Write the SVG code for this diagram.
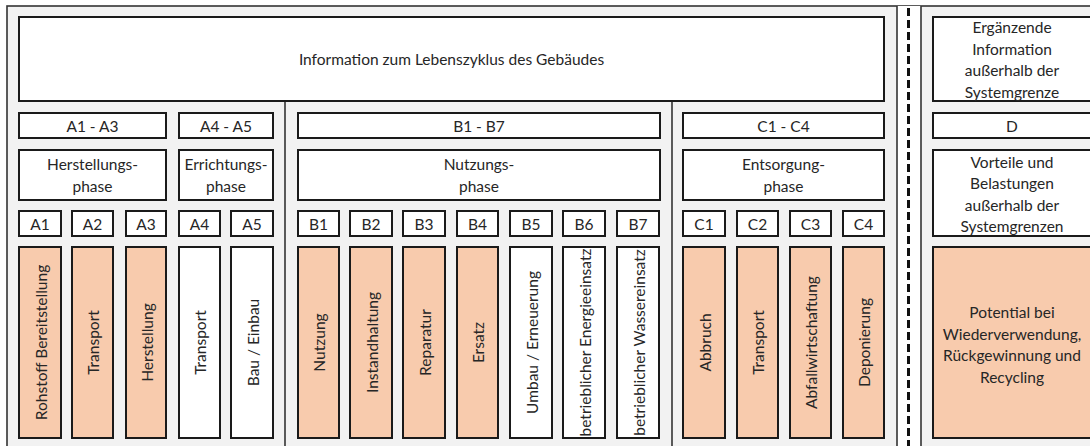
<svg xmlns="http://www.w3.org/2000/svg" width="1090" height="446" viewBox="0 0 1090 446">
<style>
.panel{fill:#f2f2f2;stroke:#333;stroke-width:1.6}
.div{stroke:#333;stroke-width:1.6;fill:none}
.b{fill:#fff;stroke:#1a1a1a;stroke-width:2}
.o{fill:#f8cbad;stroke:#1a1a1a;stroke-width:2}
text{font-family:Lato,"Liberation Sans",sans-serif;font-size:15.5px;fill:#262626;text-anchor:middle;dominant-baseline:central}
</style>
<rect x="7" y="6" width="1100" height="470" class="panel"/>
<rect x="897" y="6" width="24" height="470" fill="#fff"/>
<g id="connectors">
<line x1="285" y1="101" x2="285" y2="450" class="div"/>
<line x1="672" y1="101" x2="672" y2="450" class="div"/>
<line x1="897" y1="6" x2="897" y2="450" class="div"/>
<line x1="921" y1="6" x2="921" y2="450" class="div"/>
<line x1="908.5" y1="8" x2="908.5" y2="450" stroke="#111" stroke-width="3" stroke-dasharray="8 4"/>
</g>
<g id="top"><rect x="19" y="17" width="865" height="84" class="b"/><text x="451.5" y="59">Information zum Lebenszyklus des Gebäudes</text></g>
<g id="erg"><rect x="933" y="17" width="158" height="84" class="b"/><text x="1012" y="27">Ergänzende</text><text x="1012" y="48.5">Information</text><text x="1012" y="70">außerhalb der</text><text x="1012" y="91.5">Systemgrenze</text></g>

<g id="rA13"><rect x="19" y="113" width="147" height="25" class="b"/><text x="92.5" y="125.5">A1 - A3</text></g>
<g id="rA45"><rect x="179" y="113" width="94" height="25" class="b"/><text x="226" y="125.5">A4 - A5</text></g>
<g id="rB"><rect x="298" y="113" width="362" height="25" class="b"/><text x="479" y="125.5">B1 - B7</text></g>
<g id="rC"><rect x="683" y="113" width="201" height="25" class="b"/><text x="783.5" y="125.5">C1 - C4</text></g>
<g id="rD"><rect x="933" y="113" width="158" height="25" class="b"/><text x="1012" y="125.5">D</text></g>

<g id="pA13"><rect x="19" y="150" width="147" height="50" class="b"/><text x="92.5" y="164">Herstellungs-</text><text x="92.5" y="186">phase</text></g>
<g id="pA45"><rect x="179" y="150" width="94" height="50" class="b"/><text x="226" y="164">Errichtungs-</text><text x="226" y="186">phase</text></g>
<g id="pB"><rect x="298" y="150" width="362" height="50" class="b"/><text x="479" y="164">Nutzungs-</text><text x="479" y="186">phase</text></g>
<g id="pC"><rect x="683" y="150" width="201" height="50" class="b"/><text x="783.5" y="164">Entsorgung-</text><text x="783.5" y="186">phase</text></g>
<g id="pD"><rect x="933" y="150" width="158" height="86" class="b"/><text x="1012" y="162">Vorteile und</text><text x="1012" y="183">Belastungen</text><text x="1012" y="204.5">außerhalb der</text><text x="1012" y="226">Systemgrenzen</text></g>

<g id="iA1"><rect x="19" y="211" width="42" height="25" class="b"/><text x="40" y="223.5">A1</text></g>
<g id="iA2"><rect x="72" y="211" width="41" height="25" class="b"/><text x="92.5" y="223.5">A2</text></g>
<g id="iA3"><rect x="126" y="211" width="40" height="25" class="b"/><text x="146" y="223.5">A3</text></g>
<g id="iA4"><rect x="179" y="211" width="41" height="25" class="b"/><text x="199.5" y="223.5">A4</text></g>
<g id="iA5"><rect x="231" y="211" width="42" height="25" class="b"/><text x="252" y="223.5">A5</text></g>
<g id="iB1"><rect x="298" y="211" width="41" height="25" class="b"/><text x="318.5" y="223.5">B1</text></g>
<g id="iB2"><rect x="350" y="211" width="42" height="25" class="b"/><text x="371" y="223.5">B2</text></g>
<g id="iB3"><rect x="403" y="211" width="42" height="25" class="b"/><text x="424" y="223.5">B3</text></g>
<g id="iB4"><rect x="457" y="211" width="41" height="25" class="b"/><text x="477.5" y="223.5">B4</text></g>
<g id="iB5"><rect x="510" y="211" width="42" height="25" class="b"/><text x="531" y="223.5">B5</text></g>
<g id="iB6"><rect x="563" y="211" width="42" height="25" class="b"/><text x="584" y="223.5">B6</text></g>
<g id="iB7"><rect x="617" y="211" width="42" height="25" class="b"/><text x="638" y="223.5">B7</text></g>
<g id="iC1"><rect x="683" y="211" width="42" height="25" class="b"/><text x="704" y="223.5">C1</text></g>
<g id="iC2"><rect x="737" y="211" width="41" height="25" class="b"/><text x="757.5" y="223.5">C2</text></g>
<g id="iC3"><rect x="790" y="211" width="41" height="25" class="b"/><text x="810.5" y="223.5">C3</text></g>
<g id="iC4"><rect x="843" y="211" width="41" height="25" class="b"/><text x="863.5" y="223.5">C4</text></g>

<g id="tA1"><rect x="19" y="247" width="42" height="191" class="o"/><text transform="translate(40.5 342.5) rotate(-90)">Rohstoff Bereitstellung</text></g>
<g id="tA2"><rect x="72" y="247" width="41" height="191" class="o"/><text transform="translate(93 342.5) rotate(-90)">Transport</text></g>
<g id="tA3"><rect x="126" y="247" width="40" height="191" class="o"/><text transform="translate(146.5 342.5) rotate(-90)">Herstellung</text></g>
<g id="tA4"><rect x="179" y="247" width="41" height="191" class="b"/><text transform="translate(200 342.5) rotate(-90)">Transport</text></g>
<g id="tA5"><rect x="231" y="247" width="42" height="191" class="b"/><text transform="translate(252.5 342.5) rotate(-90)">Bau / Einbau</text></g>
<g id="tB1"><rect x="298" y="247" width="41" height="191" class="o"/><text transform="translate(319 342.5) rotate(-90)">Nutzung</text></g>
<g id="tB2"><rect x="350" y="247" width="42" height="191" class="o"/><text transform="translate(371.5 342.5) rotate(-90)">Instandhaltung</text></g>
<g id="tB3"><rect x="403" y="247" width="42" height="191" class="o"/><text transform="translate(424.5 342.5) rotate(-90)">Reparatur</text></g>
<g id="tB4"><rect x="457" y="247" width="41" height="191" class="o"/><text transform="translate(478 342.5) rotate(-90)">Ersatz</text></g>
<g id="tB5"><rect x="510" y="247" width="42" height="191" class="b"/><text transform="translate(531.5 342.5) rotate(-90)">Umbau / Erneuerung</text></g>
<g id="tB6"><rect x="563" y="247" width="42" height="191" class="b"/><text transform="translate(584.5 342.5) rotate(-90)">betrieblicher Energieeinsatz</text></g>
<g id="tB7"><rect x="617" y="247" width="42" height="191" class="b"/><text transform="translate(638.5 342.5) rotate(-90)">betrieblicher Wassereinsatz</text></g>
<g id="tC1"><rect x="683" y="247" width="42" height="191" class="o"/><text transform="translate(704.5 342.5) rotate(-90)">Abbruch</text></g>
<g id="tC2"><rect x="737" y="247" width="41" height="191" class="o"/><text transform="translate(758 342.5) rotate(-90)">Transport</text></g>
<g id="tC3"><rect x="790" y="247" width="41" height="191" class="o"/><text transform="translate(811 342.5) rotate(-90)">Abfallwirtschaftung</text></g>
<g id="tC4"><rect x="843" y="247" width="41" height="191" class="o"/><text transform="translate(864 342.5) rotate(-90)">Deponierung</text></g>
<g id="tD"><rect x="933" y="247" width="158" height="191" class="o"/><text x="1012" y="312">Potential bei</text><text x="1012" y="333.5">Wiederverwendung,</text><text x="1012" y="355">Rückgewinnung und</text><text x="1012" y="376.5">Recycling</text></g>
</svg>
